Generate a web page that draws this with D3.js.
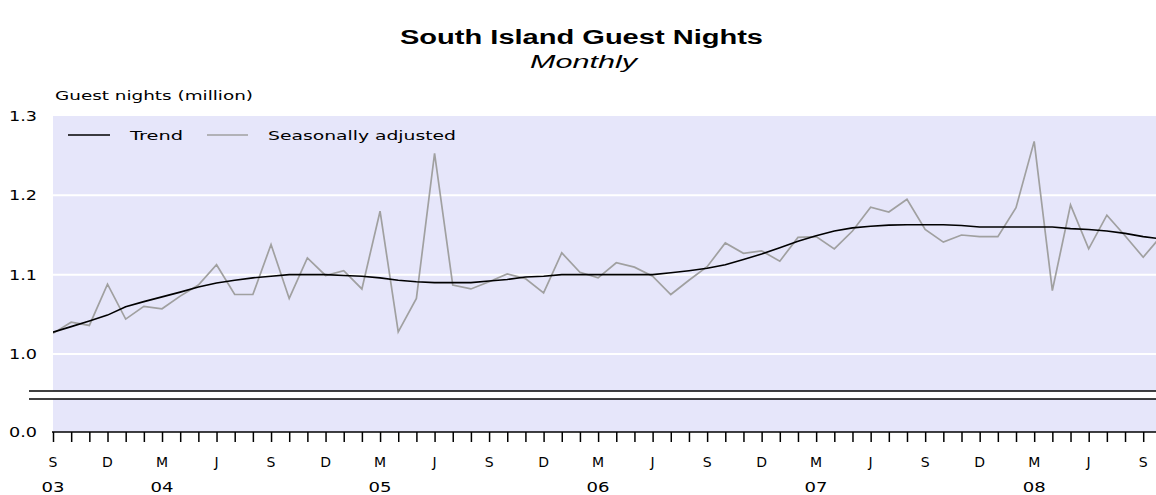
<!DOCTYPE html>
<html><head><meta charset="utf-8">
<script src="https://cdn.jsdelivr.net/npm/d3@7/dist/d3.min.js"></script>
<style>
html,body{margin:0;padding:0;background:#fff;}
svg{display:block;font-family:"DejaVu Sans",Verdana,sans-serif;}
</style></head>
<body><svg id="chart" width="1156" height="495"></svg>
<script>
// ---- data (month index 0 = Sep 2003) ----
const seasonal = [1.026,1.040,1.036,1.088,1.044,1.060,1.057,1.073,1.087,1.1125,
  1.075,1.075,1.138,1.070,1.121,1.099,1.105,1.082,1.180,1.028,
  1.070,1.253,1.087,1.082,1.091,1.101,1.095,1.077,1.1275,1.103,
  1.096,1.115,1.1095,1.098,1.075,1.093,1.110,1.140,1.127,1.130,
  1.117,1.147,1.148,1.1325,1.155,1.185,1.179,1.195,1.157,1.141,
  1.150,1.148,1.148,1.1845,1.268,1.080,1.188,1.1325,1.175,1.149,
  1.122,1.149];
const trend = [1.0275,1.0345,1.0415,1.049,1.0595,1.066,1.072,1.078,1.0845,1.0895,
  1.093,1.096,1.098,1.100,1.100,1.100,1.099,1.098,1.096,1.093,
  1.091,1.090,1.090,1.090,1.092,1.094,1.097,1.098,1.100,1.100,
  1.100,1.100,1.100,1.100,1.1025,1.105,1.108,1.1125,1.119,1.126,
  1.134,1.142,1.149,1.155,1.159,1.161,1.1625,1.163,1.163,1.163,
  1.162,1.160,1.160,1.160,1.160,1.160,1.158,1.157,1.155,1.152,
  1.148,1.145];
const monthLetters = ["S","D","M","J"];   // every 3 months starting Sep
const yearLabels = [{i:0,t:"03"},{i:6,t:"04"},{i:18,t:"05"},{i:30,t:"06"},{i:42,t:"07"},{i:54,t:"08"}];
const yTicks = [0.0,1.0,1.1,1.2,1.3];
const gridVals = [1.0,1.1,1.2];

// ---- layout ----
const svg = d3.select("#chart");
const L = 53, R = 1156, T = 116, B = 432;
const x = d3.scaleLinear().domain([0,60]).range([L,1143.2]);
const y = d3.scaleLinear().domain([0,1.0,1.3]).range([B,354,T]);

// title
svg.append("text").attr("x",581.5).attr("y",44).attr("text-anchor","middle")
  .attr("font-size",20).attr("font-weight","bold").attr("fill","#000")
  .attr("font-family","Liberation Sans, Arial, sans-serif")
  .attr("textLength",363).attr("lengthAdjust","spacingAndGlyphs")
  .text("South Island Guest Nights");
svg.append("text").attr("x",583.5).attr("y",68).attr("text-anchor","middle")
  .attr("font-size",18).attr("font-style","italic").attr("fill","#000")
  .attr("font-family","Liberation Sans, Arial, sans-serif")
  .attr("textLength",107).attr("lengthAdjust","spacingAndGlyphs")
  .text("Monthly");
svg.append("text").attr("x",55).attr("y",100).attr("font-size",13).attr("fill","#000")
  .attr("textLength",198).attr("lengthAdjust","spacingAndGlyphs")
  .text("Guest nights (million)");

// plot background
svg.append("rect").attr("x",L).attr("y",T).attr("width",R-L).attr("height",B-T).attr("fill","#e6e6fa");

// gridlines
svg.append("g").selectAll("line").data(gridVals).join("line")
  .attr("x1",L).attr("x2",R).attr("y1",d=>y(d)).attr("y2",d=>y(d))
  .attr("stroke","#fff").attr("stroke-width",2);

// axis break
svg.append("rect").attr("x",29).attr("y",391).attr("width",R-29).attr("height",8).attr("fill","#fff");
svg.append("line").attr("x1",29).attr("x2",R).attr("y1",391).attr("y2",391).attr("stroke","#000").attr("stroke-width",1.5);
svg.append("line").attr("x1",29).attr("x2",R).attr("y1",399).attr("y2",399).attr("stroke","#000").attr("stroke-width",1.5);

// y axis labels
const yAxis = d3.axisLeft(y).tickValues(yTicks).tickSize(0).tickPadding(16).tickFormat(d3.format(".1f"));
const ya = svg.append("g").attr("transform",`translate(${L},0)`).call(yAxis);
ya.select(".domain").remove();
ya.selectAll("text").attr("font-size",14).attr("font-family","DejaVu Sans, sans-serif")
  .attr("fill","#000").attr("textLength",28).attr("lengthAdjust","spacingAndGlyphs");

// lines
svg.append("clipPath").attr("id","clip").append("rect").attr("x",L).attr("y",T-10).attr("width",R-L).attr("height",B-T+10);
const line = d3.line().x((d,i)=>x(i)).y(d=>y(d));
const lg = svg.append("g").attr("clip-path","url(#clip)");
lg.append("path").datum(seasonal).attr("d",line).attr("fill","none").attr("stroke","#a0a0a0").attr("stroke-width",1.7);
lg.append("path").datum(trend).attr("d",line).attr("fill","none").attr("stroke","#000").attr("stroke-width",1.6);

// x axis
const xAxis = d3.axisBottom(x).tickValues(d3.range(0,61)).tickSize(10).tickSizeOuter(0).tickFormat("");
const xa = svg.append("g").attr("transform",`translate(0,${B})`).call(xAxis);
xa.select(".domain").remove();
xa.selectAll(".tick line").attr("stroke","#000").attr("stroke-width",1.5);
svg.append("line").attr("x1",L-1).attr("x2",R).attr("y1",B).attr("y2",B).attr("stroke","#000").attr("stroke-width",1.5);

// month letters
svg.append("g").selectAll("text").data(d3.range(0,61,3)).join("text")
  .attr("x",d=>x(d)).attr("y",467).attr("text-anchor","middle").attr("font-size",14).attr("fill","#000")
  .text(d=>monthLetters[(d/3)%4]);
// year labels
svg.append("g").selectAll("text").data(yearLabels).join("text")
  .attr("x",d=>x(d.i)).attr("y",492).attr("text-anchor","middle").attr("font-size",14).attr("fill","#000")
  .attr("textLength",23).attr("lengthAdjust","spacingAndGlyphs")
  .text(d=>d.t);

// legend
const leg = svg.append("g");
leg.append("line").attr("x1",68).attr("x2",110).attr("y1",135).attr("y2",135).attr("stroke","#000").attr("stroke-width",1.6);
leg.append("text").attr("x",130).attr("y",140).attr("font-size",13).attr("fill","#000")
  .attr("textLength",53).attr("lengthAdjust","spacingAndGlyphs").text("Trend");
leg.append("line").attr("x1",207).attr("x2",248).attr("y1",135).attr("y2",135).attr("stroke","#a0a0a0").attr("stroke-width",1.6);
leg.append("text").attr("x",268).attr("y",140).attr("font-size",13).attr("fill","#000")
  .attr("textLength",188).attr("lengthAdjust","spacingAndGlyphs").text("Seasonally adjusted");
</script>
</body></html>
